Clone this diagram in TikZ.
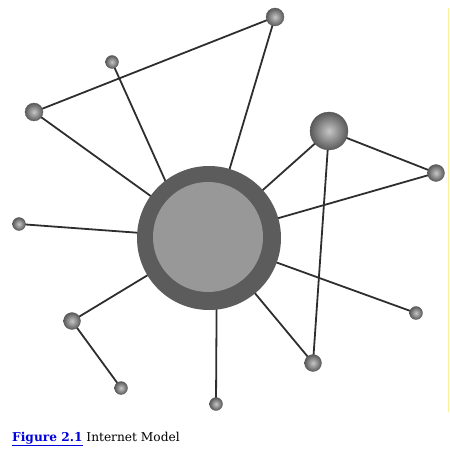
\documentclass[tikz,border=0pt]{standalone}
\usepackage{fontspec}
\setmainfont{DejaVu Serif}
\usepackage{xcolor}
\definecolor{linkblue}{RGB}{0,0,220}
\definecolor{ringgray}{RGB}{92,92,92}
\definecolor{coregray}{RGB}{152,152,152}
\definecolor{rulegold}{RGB}{255,238,150}
\begin{document}
\begin{tikzpicture}[x=1pt,y=-1pt,
  hostnode/.style={circle,inner sep=0pt,minimum size=#1,draw=gray!70!black,line width=0.3pt,
    inner color=gray!45,outer color=gray!70!black},
  link/.style={line width=1.8pt,draw=black!82}]
\useasboundingbox (0,0) rectangle (449,457);
% node positions
\coordinate (p1) at (275,17);
\coordinate (p2) at (112,62);
\coordinate (p3) at (34,112);
\coordinate (p4) at (329,131);
\coordinate (p5) at (436,173);
\coordinate (p6) at (19,224);
\coordinate (p7) at (72,321);
\coordinate (p8) at (121,388);
\coordinate (p9) at (216,404);
\coordinate (p10) at (313,363);
\coordinate (p11) at (416,313);
\coordinate (c) at (209,238);
\coordinate (c2) at (191,238);
\coordinate (c3) at (217,238);
% links
\draw[link] (p3) -- (p1);
\draw[link] (p3) -- (c);
\draw[link] (p2) -- (c2);
\draw[link] (p1) -- (c);
\draw[link] (p4) -- (c);
\draw[link] (p4) -- (p5);
\draw[link] (p4) -- (p10);
\draw[link] (p5) -- (c);
\draw[link] (p6) -- (c);
\draw[link] (p7) -- (c);
\draw[link] (p7) -- (p8);
\draw[link] (p9) -- (c3);
\draw[link] (p10) -- (c);
\draw[link] (p11) -- (c);
% nodes on top
\node[hostnode=18pt] (n1) at (p1) {};
\node[hostnode=13pt] (n2) at (p2) {};
\node[hostnode=18pt] (n3) at (p3) {};
\node[hostnode=38pt] (n4) at (p4) {};
\node[hostnode=17pt] (n5) at (p5) {};
\node[hostnode=13pt] (n6) at (p6) {};
\node[hostnode=17pt] (n7) at (p7) {};
\node[hostnode=13pt] (n8) at (p8) {};
\node[hostnode=13pt] (n9) at (p9) {};
\node[hostnode=17pt] (n10) at (p10) {};
\node[hostnode=13pt] (n11) at (p11) {};
% central hub
\node[circle,minimum size=144pt,inner sep=0pt,fill=ringgray] (hub) at (c) {};
\node[circle,minimum size=110pt,inner sep=0pt,fill=coregray] (core) at (208,237) {};
% yellow rule
\coordinate (r1) at (448,8);
\coordinate (r2) at (448,412);
\draw[rulegold,line width=1pt] (r1) -- (r2);
% caption
\node[anchor=base west,inner sep=0pt,font=\fontsize{12.2}{14}\selectfont] (cap) at (12,441)
  {\textcolor{linkblue}{\textbf{\underline{Figure 2.1}}} Internet Model};
\end{tikzpicture}
\end{document}
